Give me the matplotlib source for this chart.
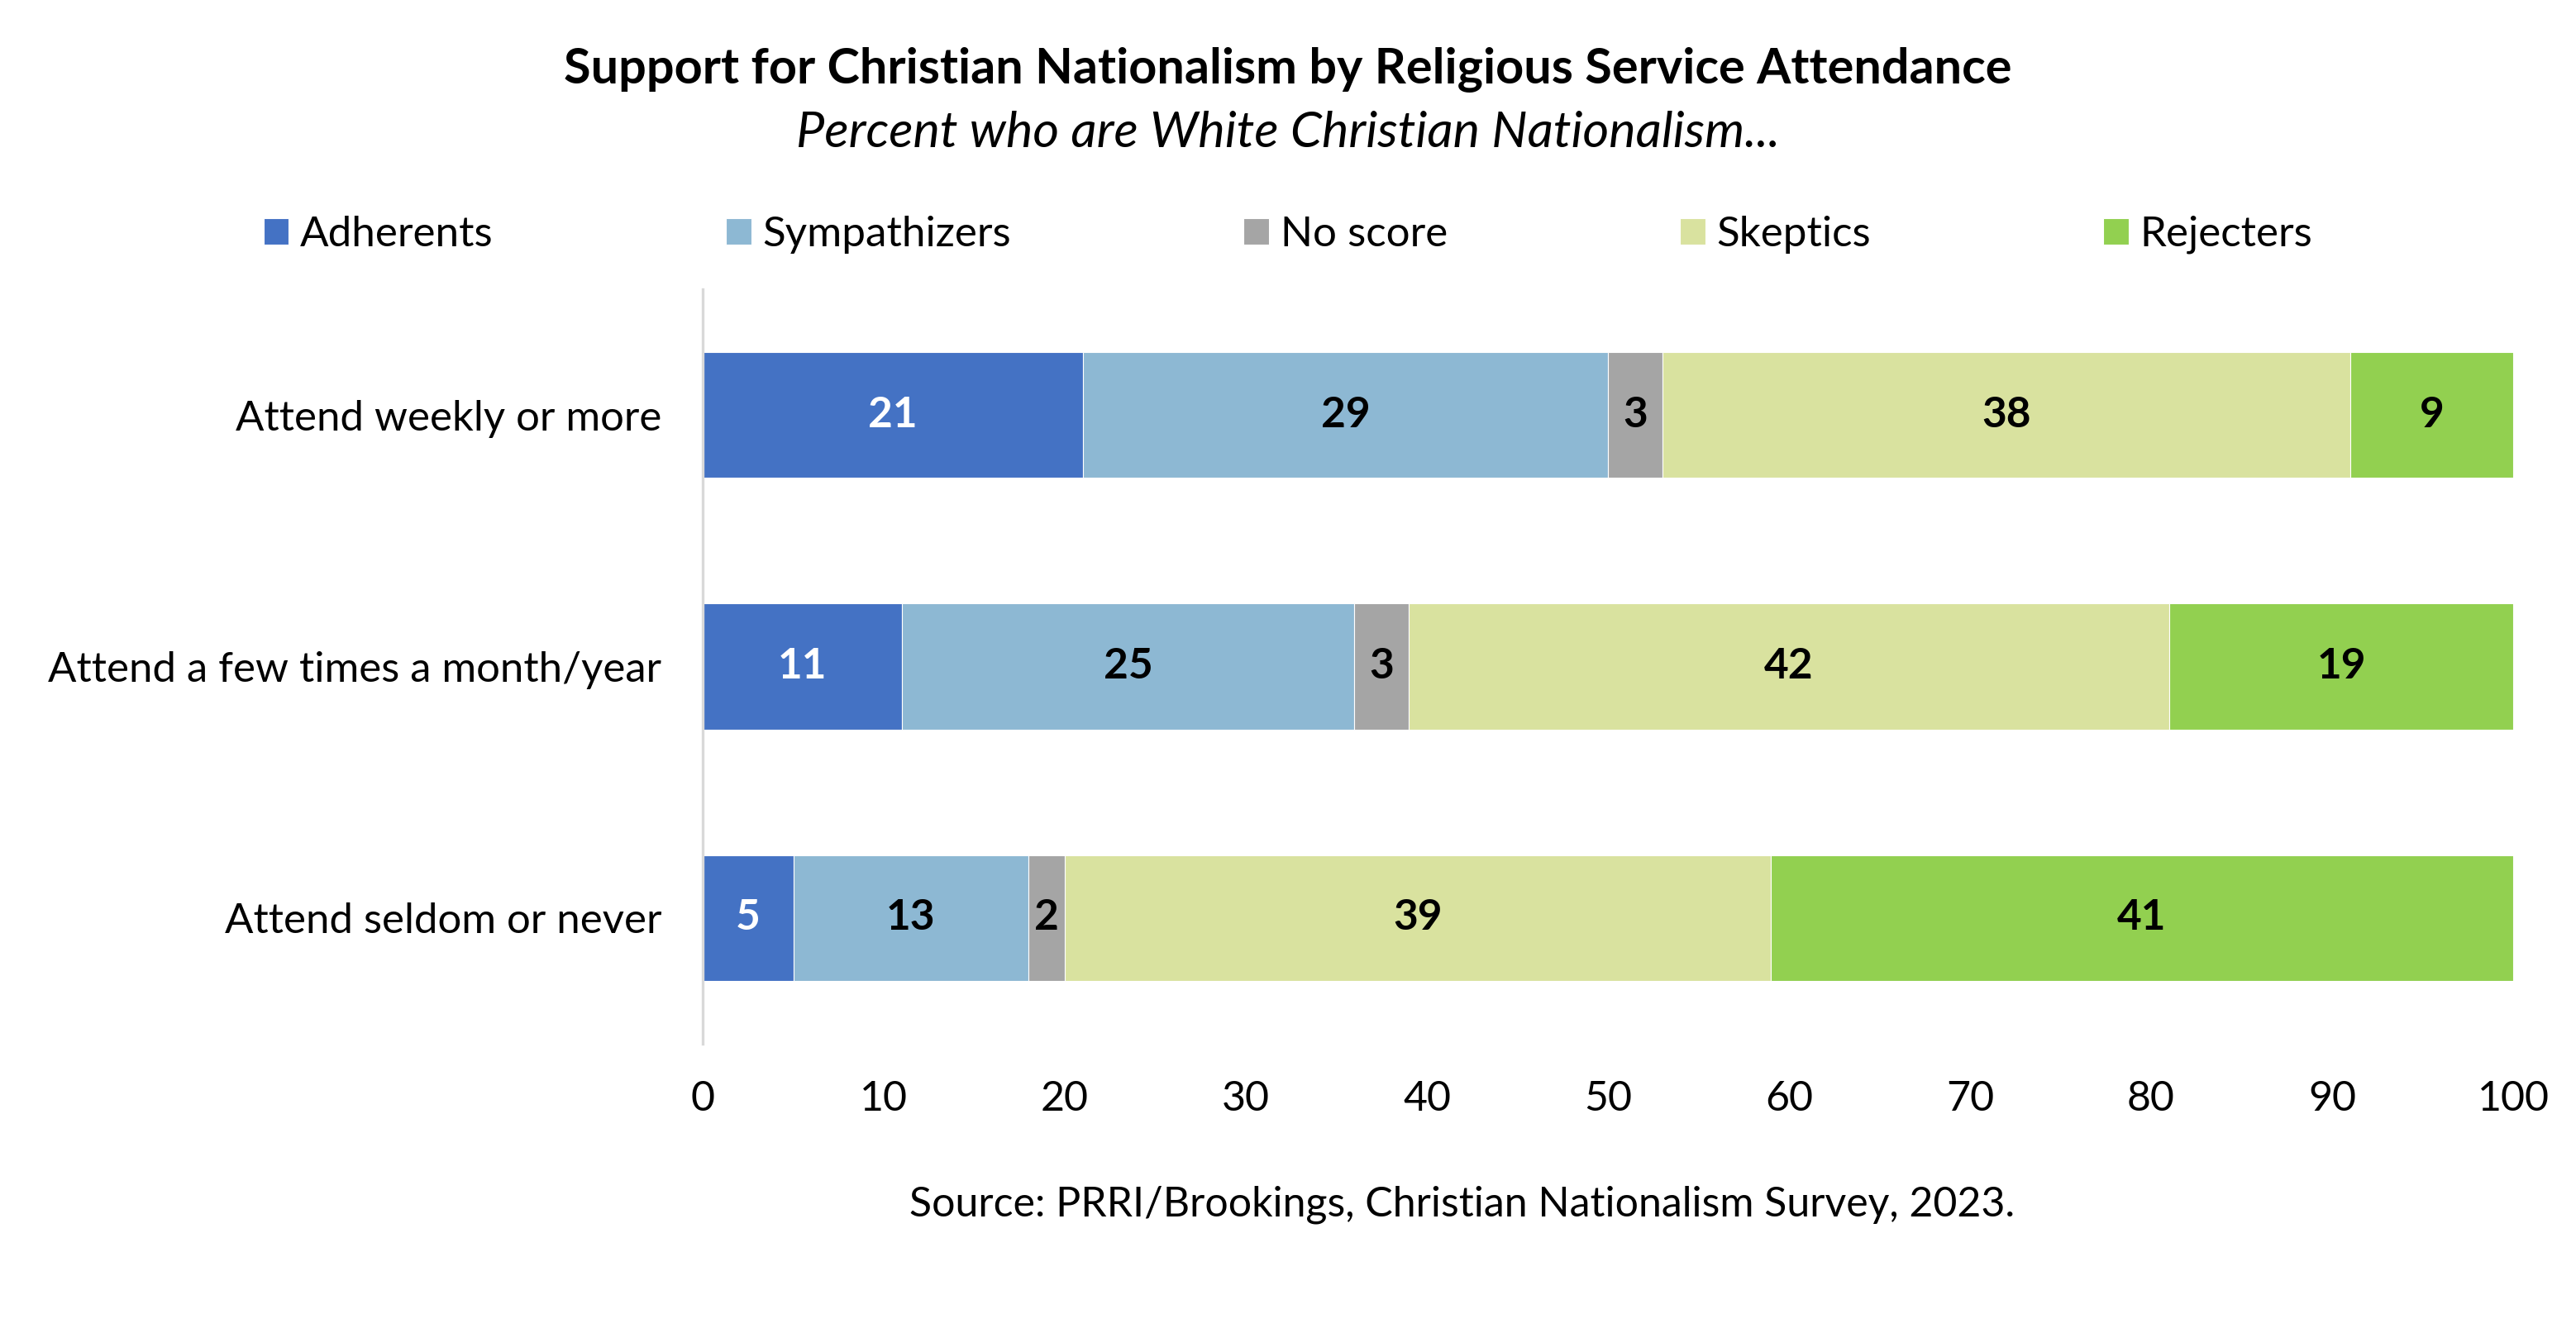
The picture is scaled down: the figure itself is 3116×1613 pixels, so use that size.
import matplotlib
matplotlib.use("Agg")
import matplotlib.pyplot as plt
import numpy as np

# Survey data (percent)
categories = ["Attend weekly or more", "Attend a few times a month/year", "Attend seldom or never"]
series_names = ["Adherents", "Sympathizers", "No score", "Skeptics", "Rejecters"]
adherents = [21, 11, 5]
sympathizers = [29, 25, 13]
no_score = [3, 3, 2]
skeptics = [38, 42, 39]
rejecters = [9, 19, 41]
x_ticks = [0, 10, 20, 30, 40, 50, 60, 70, 80, 90, 100]

colors = ["#4472C4", "#8DB8D3", "#A5A5A5", "#D9E29F", "#92D050"]
label_colors = ["white", "black", "black", "black", "black"]

plt.rcParams["font.family"] = ["Lato", "DejaVu Sans"]

fig = plt.figure(figsize=(15.58, 8.065), dpi=200)
ax = fig.add_axes([0.2728, 0.217, 0.7028, 0.566])

values = [adherents, sympathizers, no_score, skeptics, rejecters]
y = np.arange(len(categories))
left = np.zeros(len(categories))
for name, vals, col, lc in zip(series_names, values, colors, label_colors):
    vals = np.array(vals, dtype=float)
    ax.barh(y, vals, left=left, height=0.5, color=col, label=name,
            edgecolor="white", linewidth=0.4)
    for yi, l, v in zip(y, left, vals):
        ax.text(l + v / 2, yi, f"{int(v)}", ha="center", va="center",
                fontsize=18.5, fontweight="bold", color=lc)
    left += vals

ax.set_xlim(0, 100)
ax.set_ylim(2.5, -0.5)
ax.set_yticks(y)
ax.set_yticklabels(categories, fontsize=18.3)
ax.set_xticks(x_ticks)
ax.set_xticklabels([str(t) for t in x_ticks], fontsize=18)
ax.tick_params(axis="both", length=0)
ax.tick_params(axis="y", pad=18)
ax.tick_params(axis="x", pad=16)
for s in ["top", "right", "bottom"]:
    ax.spines[s].set_visible(False)
ax.spines["left"].set_color("#D9D9D9")
ax.spines["left"].set_linewidth(1.2)

fig.text(0.5, 1 - 84 / 1613, "Support for Christian Nationalism by Religious Service Attendance",
         ha="center", va="center", fontsize=21.4, fontweight="bold")
fig.text(0.5, 1 - 161 / 1613, "Percent who are White Christian Nationalism...",
         ha="center", va="center", fontsize=22, style="italic")

handles, labels = ax.get_legend_handles_labels()
fig.legend(handles, labels, loc="center", bbox_to_anchor=(0.5, 1 - 284 / 1613),
           ncol=5, frameon=False, fontsize=18.4, handlelength=0.6, handleheight=0.6,
           handletextpad=0.27, columnspacing=5.5)

fig.text(1769 / 3116, 1 - 1458 / 1613,
         "Source: PRRI/Brookings, Christian Nationalism Survey, 2023.",
         ha="center", va="center", fontsize=18)

fig.savefig("out.png", dpi=200)
